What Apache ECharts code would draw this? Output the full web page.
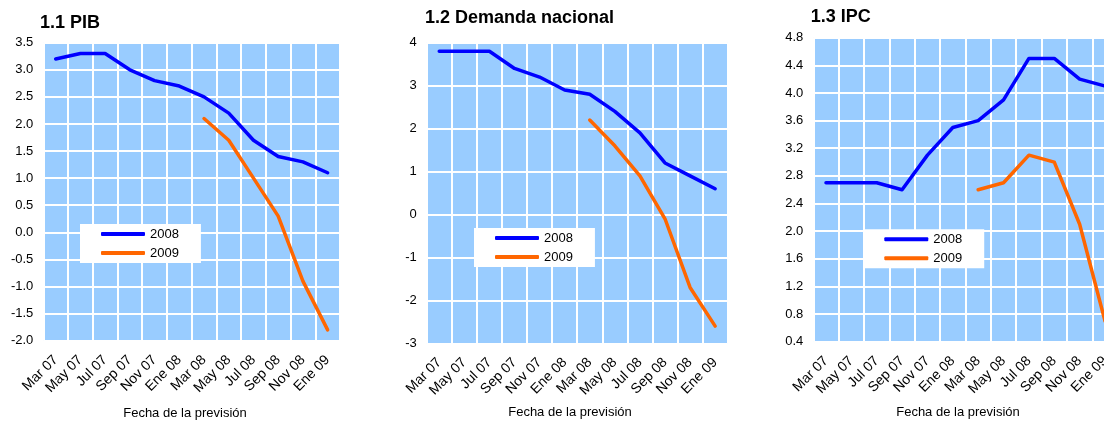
<!DOCTYPE html>
<html>
<head>
<meta charset="utf-8">
<script src="https://cdn.jsdelivr.net/npm/echarts@6/dist/echarts.min.js"></script>
<style>
html,body{margin:0;padding:0;background:#fff;}
#c{width:1104px;height:421px;}
</style>
</head>
<body>
<div id="c"></div>
<script>
const categories = ['Mar 07','May 07','Jul 07','Sep 07','Nov 07','Ene 08','Mar 08','May 08','Jul 08','Sep 08','Nov 08','Ene 09'];
const seriesNames = ['2008','2009'];
const titles = ['1.1 PIB','1.2 Demanda nacional','1.3 IPC'];
const xAxisTitle = 'Fecha de la previsión';

const pib2008 = [3.2,3.3,3.3,3.0,2.8,2.7,2.5,2.2,1.7,1.4,1.3,1.1];
const pib2009 = [null,null,null,null,null,null,2.1,1.7,1.0,0.3,-0.9,-1.8];
const dem2008 = [3.8,3.8,3.8,3.4,3.2,2.9,2.8,2.4,1.9,1.2,0.9,0.6];
const dem2009 = [null,null,null,null,null,null,2.2,1.6,0.9,-0.1,-1.7,-2.6];
const ipc2008 = [2.7,2.7,2.7,2.6,3.1,3.5,3.6,3.9,4.5,4.5,4.2,4.1];
const ipc2009 = [null,null,null,null,null,null,2.6,2.7,3.1,3.0,2.1,0.7];

const yTicks = [
  {min:-2, max:3.5, interval:0.5, decimals:1},
  {min:-3, max:4, interval:1, decimals:0},
  {min:0.4, max:4.8, interval:0.4, decimals:1}
];

const FONT = "'Liberation Sans', Arial, sans-serif";
const BLUE = '#0000FF', ORANGE = '#FF6600';

const grids = [
  {left:43.3, top:42.7, width:296.7, height:298},
  {left:426.7, top:42.7, width:301, height:300.6},
  {left:813.3, top:37.7, width:304.4, height:304}
];
const titlePos = [[40,23.3],[425,17.8],[810.7,16.7]];
const namePos = [[185,413],[570,412],[958,412]];
const legendPos = [[80,224],[474,228],[863.3,229.3]];
const data2008 = [pib2008, dem2008, ipc2008];
const data2009 = [pib2009, dem2009, ipc2009];

const option = {
  animation:false,
  grid: grids.map(g => Object.assign({show:true, backgroundColor:'#99CCFF', borderWidth:0, containLabel:false, outerBoundsMode:'none'}, g)),
  xAxis: grids.map((g,i) => ({
    type:'category', gridIndex:i, data:categories, boundaryGap:true,
    axisLine:{show:false}, axisTick:{show:false},
    axisLabel:{rotate:45, interval:0, fontSize:14, color:'#000', fontFamily:FONT, margin:17, hideOverlap:false},
    splitLine:{show:true, interval:0, lineStyle:{color:'#fff', width:2}}
  })),
  yAxis: grids.map((g,i) => ({
    type:'value', gridIndex:i, min:yTicks[i].min, max:yTicks[i].max, interval:yTicks[i].interval,
    axisLine:{show:false}, axisTick:{show:false},
    axisLabel:{fontSize:13, color:'#000', fontFamily:FONT, margin:10, showMinLabel:true, showMaxLabel:true,
      formatter: v => Number(v).toFixed(yTicks[i].decimals)},
    splitLine:{show:true, lineStyle:{color:'#fff', width:2}}
  })),
  legend: legendPos.map(p => ({
    orient:'vertical', left:p[0], top:p[1], data:seriesNames,
    backgroundColor:'#fff', padding:[2,22,2,21], itemGap:3,
    itemWidth:44, itemHeight:4, icon:'roundRect',
    textStyle:{fontSize:13, color:'#000', fontFamily:FONT, lineHeight:16},
    selectedMode:false
  })),
  graphic: [].concat(
    titlePos.map((p,i) => ({type:'text', x:p[0], y:p[1], style:{text:titles[i], font:"bold 18px "+FONT, fill:'#000', verticalAlign:'middle'}})),
    namePos.map(p => ({type:'text', x:p[0], y:p[1], style:{text:xAxisTitle, font:"13px "+FONT, fill:'#000', align:'center', verticalAlign:'middle'}}))
  ),
  series: [].concat(...grids.map((g,i) => [
    {name:seriesNames[0], type:'line', xAxisIndex:i, yAxisIndex:i, data:data2008[i], showSymbol:false, symbol:'none',
      lineStyle:{color:BLUE, width:3.5, cap:'round', join:'round'}, itemStyle:{color:BLUE}},
    {name:seriesNames[1], type:'line', xAxisIndex:i, yAxisIndex:i, data:data2009[i], showSymbol:false, symbol:'none',
      lineStyle:{color:ORANGE, width:3.5, cap:'round', join:'round'}, itemStyle:{color:ORANGE}}
  ]))
};
const chart = echarts.init(document.getElementById('c'), null, {renderer:'canvas'});
chart.setOption(option);
</script>
</body>
</html>
